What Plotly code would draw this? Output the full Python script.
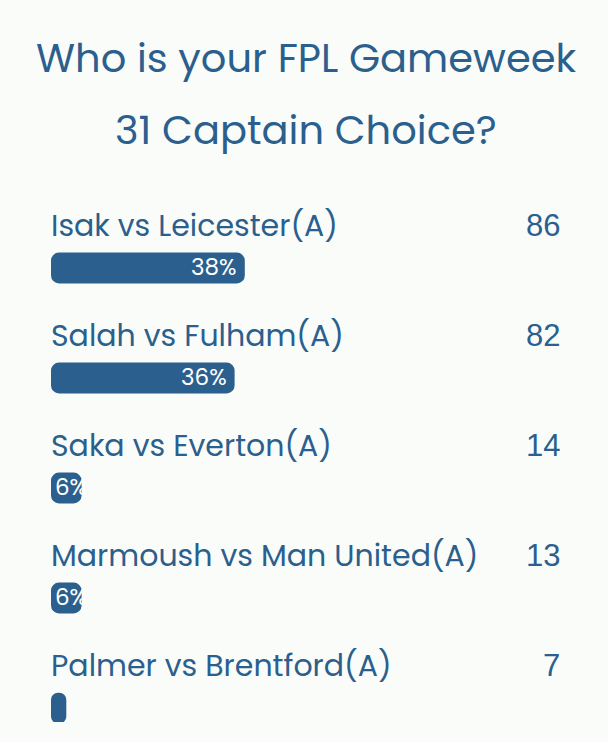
import plotly.graph_objects as go

# poll data
title_lines = ["Who is your FPL Gameweek", "31 Captain Choice?"]
options = [
    "Isak vs Leicester(A)",
    "Salah vs Fulham(A)",
    "Saka vs Everton(A)",
    "Marmoush vs Man United(A)",
    "Palmer vs Brentford(A)",
]
votes = [86, 82, 14, 13, 7]
percents = [38, 36, 6, 6, 3]
bar_labels = ["38%", "36%", "6%", "6%", ""]

BLUE = "#2b5f8d"
BG = "#fafcf9"
FONT = "Poppins, Open Sans, sans-serif"

fig = go.Figure()
# drawn from the end back to zero via base: plotly then rounds both ends
fig.add_trace(
    go.Bar(
        x=[-p for p in percents],
        base=percents,
        y=options,
        orientation="h",
        width=0.28,
        marker=dict(color=BLUE, line=dict(width=0), cornerradius=8),
        hoverinfo="skip",
    )
)

for name, count, pct, lab in zip(options, votes, percents, bar_labels):
    fig.add_annotation(
        x=0, y=name, xref="x", yref="y", text=name, showarrow=False,
        xanchor="left", yanchor="middle", yshift=43, xshift=-2,
        font=dict(size=30, color=BLUE, family=FONT),
    )
    fig.add_annotation(
        x=100, y=name, xref="x", yref="y", text=str(count), showarrow=False,
        xanchor="right", yanchor="middle", yshift=43, xshift=1,
        font=dict(size=31, color=BLUE, family="Liberation Sans, Arial, sans-serif"),
    )
    # label sits at the bar end when it fits, otherwise starts at the left
    # and runs off the bar (white on the light page, so it looks clipped)
    fits = pct >= 10
    fig.add_annotation(
        x=pct if fits else 0, y=name, xref="x", yref="y", text=lab, showarrow=False,
        xanchor="right" if fits else "left", yanchor="middle",
        xshift=-6 if fits else 2, yshift=1,
        font=dict(size=23, color="white", family=FONT),
    )

for i, line in enumerate(title_lines):
    fig.add_annotation(
        x=0.5, y=58 + 72 * i, xref="paper", yref="paper", text=line,
        showarrow=False, xanchor="center", yanchor="middle",
        font=dict(size=40, color=BLUE, family=FONT),
    )

fig.update_layout(
    width=608,
    height=742,
    margin=dict(l=51, r=47, t=180, b=20),
    paper_bgcolor=BG,
    plot_bgcolor=BG,
    showlegend=False,
    xaxis=dict(range=[0, 100], visible=False, fixedrange=True),
    yaxis=dict(
        categoryorder="array",
        categoryarray=options,
        range=[4.127, -0.8],
        visible=False,
        fixedrange=True,
    ),
)

# title lines are positioned in pixels from the top; convert to paper units
plot_h = 742 - 180 - 20
for ann in fig.layout.annotations:
    if ann.xref == "paper":
        ann.y = 1 + (180 - ann.y) / plot_h

fig.write_html(
    "out.html",
    config={"displayModeBar": False},
    post_script="document.body.style.margin='0';document.body.style.background='%s';" % BG,
)
